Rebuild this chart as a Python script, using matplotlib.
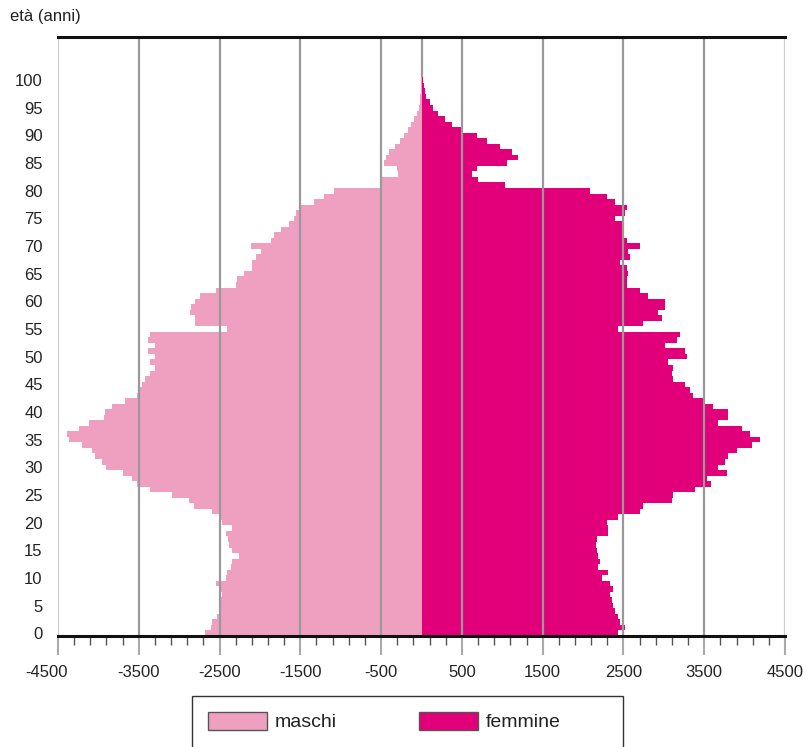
import matplotlib.pyplot as plt
from matplotlib.patches import Patch, Rectangle
from matplotlib.transforms import ScaledTranslation
import numpy as np

plt.rcParams['font.family'] = ['Liberation Sans', 'DejaVu Sans']

# età 0..100
eta = list(range(0, 101))

# maschi (valori assoluti, disegnati a sinistra)
maschi = [2686, 2612, 2590, 2529, 2488, 2488, 2488, 2467, 2488, 2550,
          2426, 2405, 2364, 2343, 2260, 2343, 2384, 2395, 2426, 2343,
          2467, 2508, 2590, 2818, 2880, 3087, 3356, 3521, 3583, 3700,
          3900, 3956, 4039, 4080, 4204, 4370, 4390, 4246, 4122, 3936,
          3914, 3831, 3666, 3521, 3501, 3459, 3418, 3356, 3294, 3356,
          3294, 3380, 3294, 3380, 3356, 2405, 2798, 2798, 2860, 2850,
          2800, 2736, 2550, 2302, 2281, 2199, 2095, 2095, 2053, 1991,
          2115, 1867, 1826, 1743, 1640, 1578, 1557, 1510, 1334, 1210,
          1085, 500, 495, 290, 300, 465, 440, 400, 330, 270,
          220, 170, 130, 95, 55, 35, 20, 14, 9, 6,
          4]

# femmine
femmine = [2430, 2520, 2458, 2432, 2395, 2370, 2354, 2333, 2370, 2333,
           2230, 2309, 2185, 2210, 2185, 2168, 2160, 2168, 2309, 2309,
           2292, 2433, 2705, 2742, 3097, 3113, 3380, 3590, 3530, 3778,
           3670, 3757, 3794, 3900, 4088, 4190, 4067, 3964, 3670, 3794,
           3794, 3609, 3485, 3361, 3323, 3262, 3113, 3097, 3113, 3052,
           3283, 3262, 3015, 3159, 3200, 2433, 2742, 2974, 2930, 3015,
           3015, 2804, 2705, 2540, 2540, 2560, 2540, 2458, 2582, 2560,
           2705, 2540, 2495, 2495, 2495, 2395, 2520, 2540, 2395, 2292,
           2086, 1034, 700, 620, 683, 1055, 1195, 1117, 972, 807,
           683, 518, 374, 291, 208, 140, 100, 60, 40, 30,
           20]

x_ticks = [-4500, -3500, -2500, -1500, -500, 500, 1500, 2500, 3500, 4500]
x_labels = [str(v) for v in x_ticks]
y_ticks = list(range(0, 101, 5))

col_m = '#EFA0C1'
col_f = '#E2007A'

fig = plt.figure(figsize=(8.06, 7.47), dpi=100)
ax = fig.add_axes([58 / 806, 111 / 747, 727 / 806, 599 / 747])

ax.barh(eta, -np.array(maschi), height=1.0, color=col_m, lw=0, antialiased=False, zorder=2)
ax.barh(eta, femmine, height=1.0, color=col_f, lw=0, antialiased=False, zorder=2)

# griglia sopra le barre
for v in x_ticks:
    c = '#cccccc' if abs(v) == 4500 else '#999999'
    ax.axvline(v, color=c, lw=1.6, zorder=3)
ax.axvline(0, color='#999999', lw=1.6, zorder=1)

ax.set_xlim(-4500, 4500)
ax.set_ylim(-0.5, 107.8)

for s in ['left', 'right']:
    ax.spines[s].set_visible(False)
for s in ['top', 'bottom']:
    ax.spines[s].set_linewidth(2.2)
    ax.spines[s].set_color('#111111')
    ax.spines[s].set_zorder(4)

ax.set_xticks(x_ticks, x_labels)
ax.set_xticks(np.arange(-4500, 4501, 200), minor=True)
ax.set_yticks(y_ticks)
ax.tick_params(axis='x', which='major', length=14, width=1.5, color='#aaaaaa',
               pad=7, labelsize=12, labelcolor='#222222')
ax.tick_params(axis='x', which='minor', length=6.5, width=1, color='#555555')
ax.tick_params(axis='y', length=0, pad=11, labelsize=12, labelcolor='#222222')
lab0 = ax.get_xticklabels()[0]
lab0.set_transform(lab0.get_transform() + ScaledTranslation(-12 / 100, 0, fig.dpi_scale_trans))

fig.text(10 / 806, 1 - 17 / 747, 'età (anni)', ha='left', va='center',
         fontsize=12, color='#222222')

handles = [Patch(facecolor=col_m, edgecolor='#555555', lw=1, label='maschi'),
           Patch(facecolor=col_f, edgecolor='#555555', lw=1, label='femmine')]
fig.legend(handles=handles, loc='upper left', bbox_to_anchor=(192 / 806, 1 - 696 / 747),
           ncol=2, frameon=False, fontsize=14, handlelength=3.03, handleheight=1.03,
           handletextpad=0.41, columnspacing=4.2, borderpad=0.82, borderaxespad=0,
           labelcolor='#222222')
fig.add_artist(Rectangle((192 / 806, -0.02), (623 - 192) / 806, (747 - 696) / 747 + 0.02,
                         transform=fig.transFigure, fill=False, ec='#333333', lw=1))

fig.savefig('out.png', dpi=100)
